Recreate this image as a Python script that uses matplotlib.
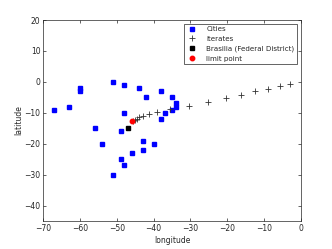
import numpy as np
import matplotlib
matplotlib.use("Agg")
import matplotlib.pyplot as plt

# city coordinates (longitude, latitude)
city_lon = [-67, -63, -60, -60, -51, -48, -44, -42, -38, -35, -34, -34, -35, -37,
            -38, -48, -56, -49, -54, -43, -40, -43, -46, -49, -48, -51]
city_lat = [-9, -8, -2, -3, 0, -1, -2, -5, -3, -5, -7, -8, -9, -10,
            -12, -10, -15, -16, -20, -19, -20, -22, -23, -25, -27, -30]

# iterates of the fixed point scheme
iter_lon = [-2.8, -5.6, -8.9, -12.3, -16.2, -20.4, -25.1, -30.3, -35.6, -39.1,
            -41.2, -42.8, -43.9, -44.6, -45.1, -45.5]
iter_lat = [-0.76, -1.5, -2.3, -3.0, -4.1, -5.3, -6.4, -7.7, -8.9, -9.7,
            -10.5, -11.0, -11.5, -11.9, -12.2, -12.5]

brasilia = (-47, -15)
limit_pt = (-45.8, -12.8)

grey = "#262626"
plt.rcParams["font.size"] = 5.5
plt.rcParams["font.family"] = "DejaVu Sans"

fig = plt.figure(figsize=(3.32, 2.49), dpi=100)
ax = fig.add_axes([43.3 / 332, 28 / 249, (300.7 - 43.3) / 332, (221 - 20) / 249])

ax.plot(city_lon, city_lat, "s", color="blue", markersize=2.4, label="Cities")
ax.plot(iter_lon, iter_lat, "+", color="#333333", markersize=4.2, markeredgewidth=0.6,
        label="iterates")
ax.plot(*brasilia, "s", color="black", markersize=2.4, label="Brasilia (Federal District)")
ax.plot(*limit_pt, "o", color="red", markersize=3.2, label="limit point")

ax.set_xlim(-70, 0)
ax.set_ylim(-45, 20)
ax.set_xticks(np.arange(-70, 1, 10))
ax.set_yticks(np.arange(-40, 21, 10))
ax.set_xlabel("longitude", color=grey, labelpad=2)
ax.set_ylabel("latitude", color=grey, labelpad=1)

ax.tick_params(direction="in", top=True, right=True, length=2, width=0.5,
               colors=grey, pad=2)
for s in ax.spines.values():
    s.set_linewidth(0.5)
    s.set_color(grey)

leg = ax.legend(loc="upper right", fancybox=False, framealpha=1, edgecolor=grey,
                borderaxespad=0.5, handlelength=1.5, handletextpad=1.2,
                labelspacing=0.5, fontsize=5.1)
leg.get_frame().set_linewidth(0.5)
for t in leg.get_texts():
    t.set_color(grey)

fig.savefig("out.png", dpi=100)
